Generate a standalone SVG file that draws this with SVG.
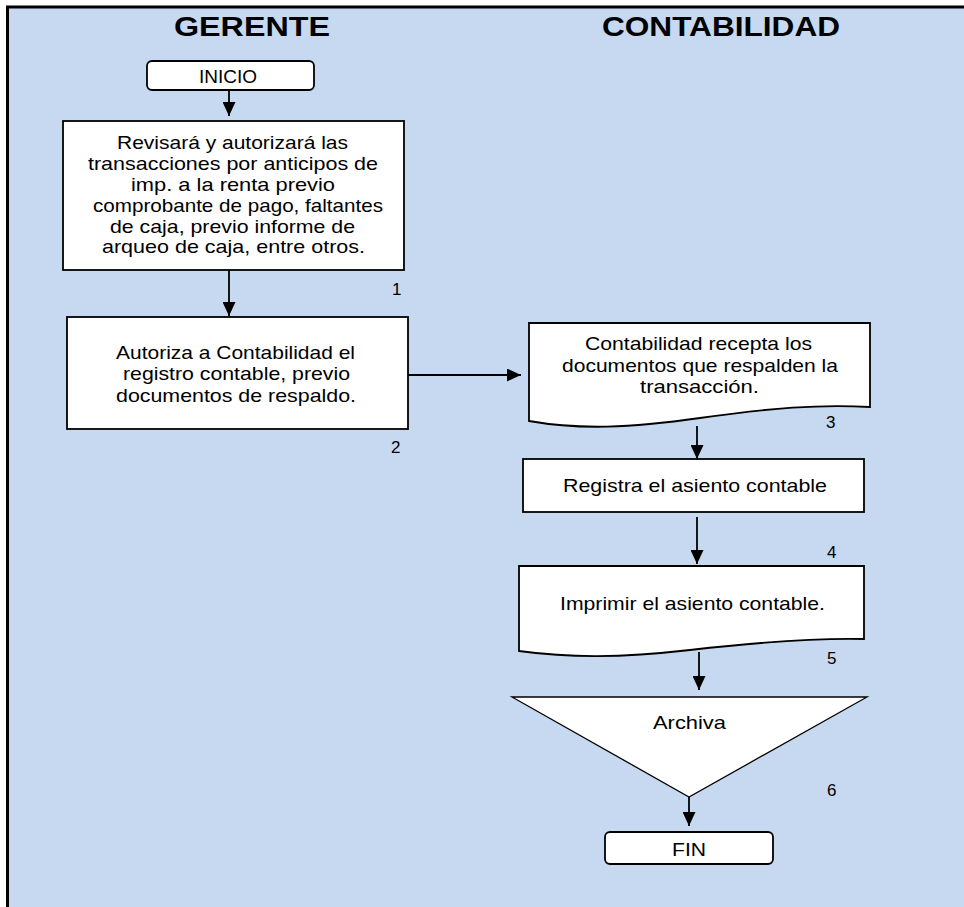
<svg xmlns="http://www.w3.org/2000/svg" width="964" height="907" viewBox="0 0 964 907">
<style>
.bg{fill:#C6D9F0}
.frame{stroke:#000;stroke-width:3;fill:none}
.box{fill:#fff;stroke:#000;stroke-width:1.8}
.tri{fill:#fff;stroke:#000;stroke-width:1.3}
.t{font-family:"Liberation Sans",Arial,sans-serif;font-size:18.5px;fill:#000}
.n{font-family:"Liberation Sans",Arial,sans-serif;font-size:17px;fill:#000}
.h{font-family:"Liberation Sans",Arial,sans-serif;font-size:27px;font-weight:bold;fill:#000}
.c{stroke:#000;stroke-width:1.8;fill:none;marker-end:url(#ah)}
</style>
<defs>
<marker id="ah" viewBox="0 0 14 13" markerUnits="userSpaceOnUse" markerWidth="14" markerHeight="13" refX="14" refY="6.5" orient="auto">
<path d="M0,0 L14,6.5 L0,13 z" fill="#000"/>
</marker>
</defs>
<rect x="0" y="0" width="964" height="907" fill="#fff"/>
<rect class="bg" x="7.5" y="7" width="957" height="900"/>
<path class="frame" d="M7.5,907 V7 H964"/>
<g id="headers">
<text class="h" x="174" y="36" textLength="156" lengthAdjust="spacingAndGlyphs">GERENTE</text>
<text class="h" x="602" y="36" textLength="238" lengthAdjust="spacingAndGlyphs">CONTABILIDAD</text>
</g>
<g id="inicio">
<rect class="box" x="147" y="61" width="167" height="29" rx="5"/>
<text class="t" x="199" y="83" font-size="18" textLength="58" lengthAdjust="spacingAndGlyphs">INICIO</text>
</g>
<g id="step1">
<rect class="box" x="63" y="121" width="341" height="149"/>
<text class="t" x="117" y="149" textLength="231" lengthAdjust="spacingAndGlyphs">Revisará y autorizará las</text>
<text class="t" x="88" y="170" textLength="290" lengthAdjust="spacingAndGlyphs">transacciones por anticipos de</text>
<text class="t" x="131" y="191" textLength="204" lengthAdjust="spacingAndGlyphs">imp.  a la renta previo</text>
<text class="t" x="93" y="212" textLength="290" lengthAdjust="spacingAndGlyphs">comprobante de pago, faltantes</text>
<text class="t" x="110" y="233" textLength="245" lengthAdjust="spacingAndGlyphs">de caja, previo informe de</text>
<text class="t" x="102" y="253" textLength="263" lengthAdjust="spacingAndGlyphs">arqueo de caja, entre otros.</text>
<text class="n" x="392" y="295">1</text>
</g>
<g id="step2">
<rect class="box" x="67" y="317" width="341" height="112"/>
<text class="t" x="116" y="359" textLength="239" lengthAdjust="spacingAndGlyphs">Autoriza a Contabilidad el</text>
<text class="t" x="123" y="380" textLength="227" lengthAdjust="spacingAndGlyphs">registro contable, previo</text>
<text class="t" x="116" y="402" textLength="240" lengthAdjust="spacingAndGlyphs">documentos de respaldo.</text>
<text class="n" x="391" y="453">2</text>
</g>
<g id="step3">
<path class="box" d="M529,323 H870 V407 C820,404 770,408 700,418 C630,428 580,430 529,421 Z"/>
<text class="t" x="585" y="350" textLength="227" lengthAdjust="spacingAndGlyphs">Contabilidad recepta los</text>
<text class="t" x="562" y="372" textLength="276" lengthAdjust="spacingAndGlyphs">documentos que respalden la</text>
<text class="t" x="640" y="393" textLength="119" lengthAdjust="spacingAndGlyphs">transacción.</text>
<text class="n" x="826" y="428">3</text>
</g>
<g id="step4">
<rect class="box" x="523" y="459" width="341" height="53"/>
<text class="t" x="563" y="492" textLength="264" lengthAdjust="spacingAndGlyphs">Registra el asiento contable</text>
<text class="n" x="827" y="558">4</text>
</g>
<g id="step5">
<path class="box" d="M519,566 H864 V639 C820,638 760,642 690,650 C620,658 570,658 519,651 Z"/>
<text class="t" x="560" y="610" textLength="265" lengthAdjust="spacingAndGlyphs">Imprimir  el asiento contable.</text>
<text class="n" x="827" y="664">5</text>
</g>
<g id="step6">
<path class="tri" d="M512,697 H867 L689,797 Z"/>
<text class="t" x="653" y="729" textLength="73" lengthAdjust="spacingAndGlyphs">Archiva</text>
<text class="n" x="827" y="796">6</text>
</g>
<g id="fin">
<rect class="box" x="605" y="832" width="168" height="32" rx="5"/>
<text class="t" x="672" y="856" textLength="34" lengthAdjust="spacingAndGlyphs">FIN</text>
</g>
<g id="connectors">
<line class="c" x1="229" y1="90" x2="229" y2="116"/>
<line class="c" x1="229" y1="270" x2="229" y2="316"/>
<line class="c" x1="408" y1="375" x2="521" y2="375"/>
<line class="c" x1="697" y1="426" x2="697" y2="459"/>
<line class="c" x1="697" y1="517" x2="697" y2="564"/>
<line class="c" x1="699" y1="652" x2="699" y2="690"/>
<line class="c" x1="689" y1="797" x2="689" y2="826"/>
</g>
</svg>
